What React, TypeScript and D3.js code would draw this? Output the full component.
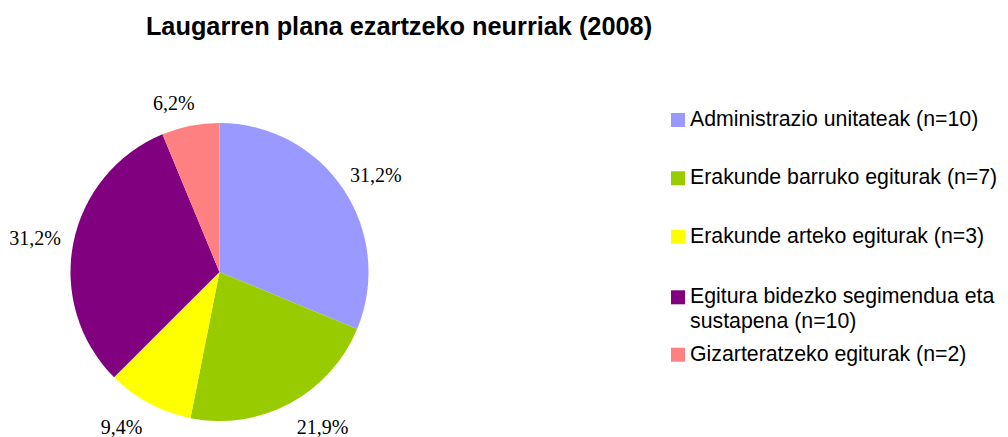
import React from "react";
import * as d3 from "d3";

const categories = [
  "Administrazio unitateak (n=10)",
  "Erakunde barruko egiturak (n=7)",
  "Erakunde arteko egiturak (n=3)",
  "Egitura bidezko segimendua eta sustapena (n=10)",
  "Gizarteratzeko egiturak (n=2)",
];
const legendLines = [
  ["Administrazio unitateak (n=10)"],
  ["Erakunde barruko egiturak (n=7)"],
  ["Erakunde arteko egiturak (n=3)"],
  ["Egitura bidezko segimendua eta", "sustapena (n=10)"],
  ["Gizarteratzeko egiturak (n=2)"],
];
const values = [10, 7, 3, 10, 2];
const percentLabels = ["31,2%", "21,9%", "9,4%", "31,2%", "6,2%"];
const colors = ["#9999FF", "#99CC00", "#FFFF00", "#800080", "#FF8080"];
const title = "Laugarren plana ezartzeko neurriak (2008)";

export default function App() {
  const W = 1008;
  const H = 437;
  const cx = 219.5;
  const cy = 272;
  const r = 149;
  const pie = d3.pie<number>().sort(null).value((d) => d)(values);
  const arc = d3.arc<d3.PieArcDatum<number>>().innerRadius(0).outerRadius(r);
  const R0 = 162;
  const halfW = [26, 27, 22.5, 26, 20.5];
  const halfH = 10;
  const nudgeX = [0, 14, -11, 0, -10];
  const nudgeY = [-1, 3, 3, 0, 0];

  const legendBaselines = [126, 184.3, 242.7, 303.3, 360.7];

  return (
    <svg width={W} height={H} style={{ position: "absolute", left: 0, top: 0, background: "#fff" }}>
      <text
        x={399}
        y={35}
        textAnchor="middle"
        fontFamily="'Liberation Sans', Arial, sans-serif"
        fontWeight="bold"
        fontSize={25.3}
        fill="#000"
      >
        {title}
      </text>
      <g transform={`translate(${cx},${cy})`}>
        {pie.map((p, i) => (
          <path key={i} d={arc(p) || ""} fill={colors[i]} stroke="none" />
        ))}
        {pie.map((p, i) => {
          const a = (p.startAngle + p.endAngle) / 2;
          const s = Math.sin(a);
          const c = Math.cos(a);
          const x = R0 * s + s * halfW[i] + nudgeX[i];
          const y = -R0 * c - c * halfH + nudgeY[i];
          return (
            <text
              key={"l" + i}
              x={x}
              y={y}
              dy="0.35em"
              textAnchor="middle"
              fontFamily="'Liberation Serif', 'Times New Roman', serif"
              fontSize={20}
              fill="#000"
            >
              {percentLabels[i]}
            </text>
          );
        })}
      </g>
      <g>
        {categories.map((cat, i) => (
          <g key={cat}>
            <rect x={671} y={legendBaselines[i] - 13} width={14} height={14} fill={colors[i]} />
            {legendLines[i].map((ln, j) => (
              <text
                key={j}
                x={690}
                y={legendBaselines[i] + j * 24.4}
                fontFamily="'Liberation Sans', Arial, sans-serif"
                fontSize={21.3}
                fill="#000"
              >
                {ln}
              </text>
            ))}
          </g>
        ))}
      </g>
    </svg>
  );
}
